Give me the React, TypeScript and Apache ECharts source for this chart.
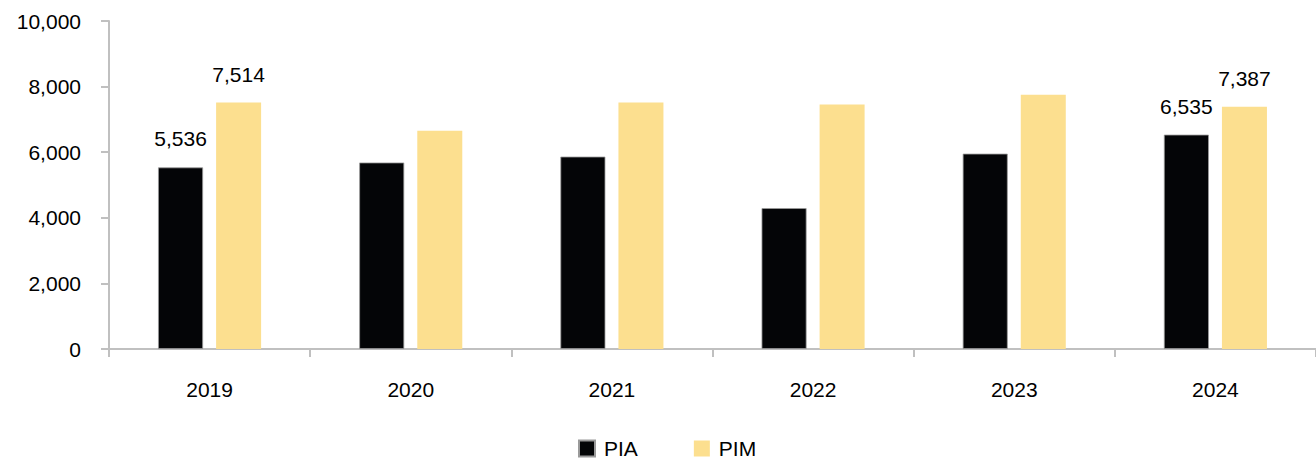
import React, { useEffect, useRef } from "react";
import * as echarts from "echarts";

const categories = ["2019", "2020", "2021", "2022", "2023", "2024"];
const piaValues = [5536, 5685, 5865, 4295, 5955, 6535];
const pimValues = [7514, 6655, 7515, 7455, 7750, 7387];
const labeledIdx = [0, 5];
const yTicks = [0, 2000, 4000, 6000, 8000, 10000];

export default function App() {
  const ref = useRef<HTMLDivElement>(null);
  useEffect(() => {
    if (!ref.current) return;
    const chart = echarts.init(ref.current, null, { renderer: "svg" });
    const font = "Liberation Sans, Arial, sans-serif";
    const fs = 21;
    const mkData = (vals: number[]) =>
      vals.map((v, i) => ({
        value: v,
        label: { show: labeledIdx.includes(i) },
      }));
    chart.setOption({
      animation: false,
      textStyle: { fontFamily: font },
      grid: { left: 109, right: 0, top: 21, bottom: 112, containLabel: false },
      legend: {
        top: 438,
        left: 578,
        padding: 0,
        itemWidth: 16,
        itemHeight: 16,
        itemGap: 56,
        icon: "rect",
        textStyle: {
          fontSize: fs,
          lineHeight: 20,
          color: "#000",
          fontFamily: font,
          padding: [0, 0, 0, 4],
        },
        data: ["PIA", "PIM"],
      },
      xAxis: {
        type: "category",
        data: categories,
        axisLine: { lineStyle: { color: "#c0c0c0", width: 2 } },
        axisTick: { show: true, length: 8, lineStyle: { color: "#c0c0c0", width: 2 } },
        axisLabel: { fontSize: fs, color: "#000", margin: 30, fontFamily: font },
      },
      yAxis: {
        type: "value",
        min: yTicks[0],
        max: yTicks[yTicks.length - 1],
        interval: 2000,
        splitLine: { show: false },
        axisLine: { show: true, lineStyle: { color: "#c0c0c0", width: 2 } },
        axisTick: { show: true, length: 8, lineStyle: { color: "#c0c0c0", width: 2 } },
        axisLabel: {
          fontSize: fs,
          color: "#000",
          margin: 28,
          fontFamily: font,
          formatter: (v: number) => v.toLocaleString("en-US"),
        },
      },
      series: [
        {
          name: "PIA",
          type: "bar",
          data: mkData(piaValues),
          barWidth: 45,
          barGap: "29%",
          itemStyle: { color: "#040507", borderColor: "#9a9a9a", borderWidth: 0.8 },
          label: {
            position: "top",
            distance: 18,
            fontSize: fs,
            color: "#000",
            fontFamily: font,
            formatter: (p: any) => Number(p.value).toLocaleString("en-US"),
          },
        },
        {
          name: "PIM",
          type: "bar",
          data: mkData(pimValues),
          barWidth: 45,
          barGap: "29%",
          itemStyle: { color: "#FCDF8F" },
          label: {
            position: "top",
            distance: 18,
            fontSize: fs,
            color: "#000",
            fontFamily: font,
            formatter: (p: any) => Number(p.value).toLocaleString("en-US"),
          },
        },
      ],
    });
    return () => chart.dispose();
  }, []);
  return (
    <div
      ref={ref}
      style={{ position: "fixed", left: 0, top: 0, width: 1316, height: 461, background: "#fff" }}
    />
  );
}
